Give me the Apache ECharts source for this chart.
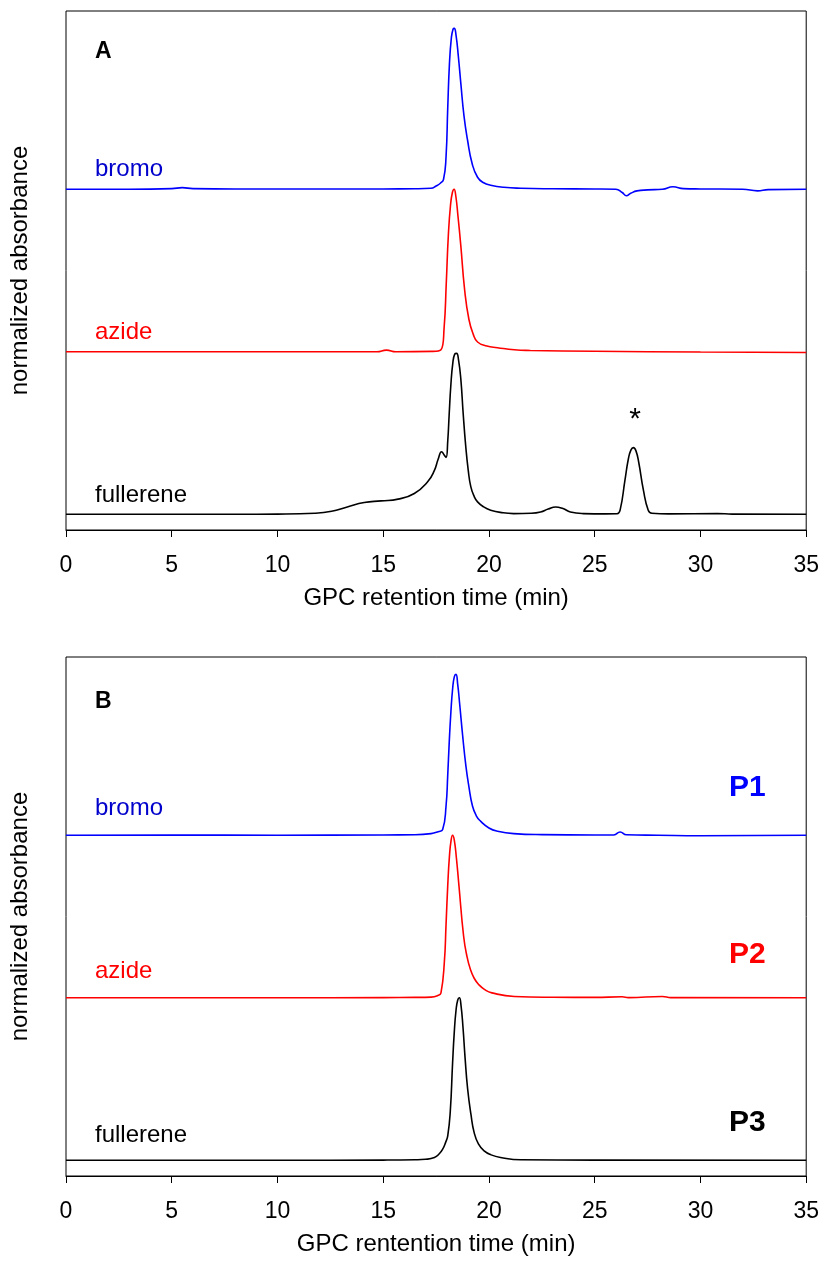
<!DOCTYPE html>
<html>
<head>
<meta charset="utf-8">
<script src="https://cdn.jsdelivr.net/npm/echarts@6/dist/echarts.min.js"></script>
<style>
  html, body { margin: 0; padding: 0; background: #fff; }
  #container { width: 822px; height: 1262px; }
</style>
</head>
<body>
<div id="container"></div>
<script>
  // x ticks (retention time, min)
  var xTicks = [0, 5, 10, 15, 20, 25, 30, 35];

  // panel A traces: [time, normalized absorbance]
  var bromoA = [[0,0],[3,0],[5,0.004],[5.5,0.01],[6,0.004],[8,0.002],[12,0.002],[15,0.002],[16.5,0.003],[17.26,0.006],[17.5,0.02],[17.7,0.037],[17.85,0.06],[17.97,0.2],[18.05,0.5],[18.13,0.77],[18.22,0.93],[18.3,0.985],[18.36,0.99],[18.44,0.95],[18.55,0.82],[18.67,0.65],[18.82,0.45],[18.99,0.30],[19.2,0.16],[19.46,0.074],[19.75,0.04],[20.08,0.025],[20.7,0.012],[21.5,0.006],[23,0.003],[25,0.002],[26.0,0.0],[26.3,-0.02],[26.5,-0.04],[26.7,-0.025],[27.0,-0.01],[27.5,-0.004],[28.2,0.0],[28.7,0.015],[29.2,0.004],[30,0.002],[32,0.0],[32.7,-0.01],[33.2,-0.002],[35,0]];
  var azideA = [[0,0],[10,0],[14.7,0],[15.15,0.01],[15.6,0],[17.3,0.002],[17.73,0.012],[17.88,0.15],[17.98,0.42],[18.08,0.72],[18.18,0.9],[18.27,0.98],[18.35,1.0],[18.43,0.96],[18.53,0.84],[18.67,0.65],[18.85,0.38],[19.05,0.2],[19.25,0.11],[19.46,0.06],[19.9,0.035],[20.4,0.025],[21.2,0.012],[21.96,0.008],[25,0.003],[30,-0.002],[35,-0.005]];
  var fullereneA = [[0,0],[8,0],[10,0.001],[11.77,0.006],[12.56,0.018],[13.3,0.045],[14.1,0.072],[14.9,0.082],[15.7,0.093],[16.47,0.128],[17.1,0.2],[17.42,0.27],[17.6,0.34],[17.76,0.385],[17.88,0.365],[17.97,0.35],[18.05,0.45],[18.12,0.62],[18.2,0.8],[18.29,0.93],[18.38,0.985],[18.47,0.99],[18.56,0.95],[18.67,0.83],[18.78,0.62],[18.9,0.42],[19.02,0.27],[19.14,0.17],[19.3,0.11],[19.46,0.076],[19.75,0.045],[20.08,0.025],[20.6,0.01],[21.17,0.004],[22.0,0.006],[22.44,0.014],[22.8,0.032],[23.15,0.045],[23.5,0.035],[23.85,0.014],[24.46,0.004],[25.5,0.002],[26.06,0.003],[26.2,0.025],[26.43,0.21],[26.59,0.34],[26.71,0.395],[26.83,0.41],[26.95,0.39],[27.08,0.32],[27.3,0.15],[27.53,0.025],[27.7,0.006],[28.5,0.002],[30.8,0.004],[31.5,0.001],[35,0]];

  // panel B traces
  var bromoB = [[0,0],[5,0.001],[10,0],[15,0.002],[16.5,0.003],[17.26,0.01],[17.6,0.022],[17.81,0.035],[17.97,0.18],[18.05,0.37],[18.12,0.57],[18.2,0.76],[18.28,0.9],[18.36,0.975],[18.44,0.99],[18.52,0.93],[18.62,0.8],[18.75,0.62],[18.91,0.425],[19.05,0.3],[19.22,0.18],[19.4,0.12],[19.6,0.087],[20.0,0.045],[20.4,0.025],[21.17,0.01],[22.5,0.004],[25,0.002],[25.9,0.002],[26.2,0.02],[26.5,0.003],[28,0],[30,-0.003],[35,0]];
  var azideB = [[0,0],[10,0],[15,0.001],[16.5,0.002],[17.26,0.004],[17.6,0.015],[17.73,0.03],[17.89,0.22],[17.97,0.45],[18.05,0.69],[18.13,0.87],[18.21,0.97],[18.28,1.0],[18.36,0.97],[18.46,0.86],[18.58,0.69],[18.8,0.38],[18.95,0.26],[19.12,0.175],[19.3,0.12],[19.51,0.082],[19.8,0.05],[20.14,0.03],[21.2,0.008],[23,0.003],[25,0.002],[26.3,0.006],[26.6,0.001],[28.2,0.008],[28.6,0.001],[35,0]];
  var fullereneB = [[0,0],[10,0],[15,0.001],[16.5,0.003],[17.0,0.006],[17.42,0.017],[17.65,0.04],[17.81,0.068],[17.95,0.11],[18.05,0.15],[18.17,0.3],[18.28,0.6],[18.36,0.79],[18.44,0.92],[18.52,0.985],[18.6,1.0],[18.68,0.95],[18.77,0.82],[18.87,0.63],[18.99,0.44],[19.15,0.28],[19.3,0.17],[19.5,0.1],[19.77,0.057],[20.1,0.033],[20.55,0.017],[21.5,0.003],[25,0.001],[35,0]];

  // vertical offsets of the stacked traces
  var offsets = { fullerene: 0, azide: 1, bromo: 2 };

  var FONT = 'Liberation Sans, Arial, Helvetica, sans-serif';

  function shift(arr, off) {
    return arr.map(function (p) { return [p[0], p[1] + off]; });
  }

  function trace(name, data, off, color, idx) {
    return {
      name: name,
      type: 'line',
      xAxisIndex: idx,
      yAxisIndex: idx,
      data: shift(data, off),
      symbol: 'none',
      smooth: 0.5,
      lineStyle: { color: color, width: 1.6 },
      silent: true,
      animation: false
    };
  }

  function xAxisFor(idx, title) {
    return {
      gridIndex: idx,
      type: 'value',
      min: 0,
      max: 35,
      interval: 5,
      name: title,
      nameLocation: 'middle',
      nameGap: 56,
      nameTextStyle: { color: '#000', fontSize: 24, fontFamily: FONT },
      axisLine: { show: true, onZero: false, lineStyle: { color: '#000', width: 1 } },
      axisTick: { show: true, inside: false, length: 7, lineStyle: { color: '#000', width: 1 } },
      axisLabel: { color: '#000', fontSize: 23, fontFamily: FONT, margin: 24 },
      splitLine: { show: false }
    };
  }

  function yAxisFor(idx) {
    return {
      gridIndex: idx,
      type: 'value',
      min: -0.097,
      max: 3.097,
      name: 'normalized absorbance',
      nameLocation: 'middle',
      nameGap: 34,
      nameTextStyle: { color: '#000', fontSize: 24, fontFamily: FONT },
      axisLine: { show: false },
      axisTick: { show: false },
      axisLabel: { show: false },
      splitLine: { show: false }
    };
  }

  function label(text, x, y, size, color, bold, align) {
    return {
      type: 'text',
      silent: true,
      style: {
        text: text,
        x: x,
        y: y,
        fill: color,
        fontSize: size,
        fontWeight: bold ? 'bold' : 'normal',
        fontFamily: FONT,
        align: align || 'left',
        verticalAlign: 'middle'
      }
    };
  }

  var myChart = echarts.init(document.getElementById('container'), null, { renderer: 'canvas' });
  var option = {
    backgroundColor: '#fff',
    animation: false,
    grid: [
      { left: 64, right: 15, top: 11, height: 519, show: true, borderColor: '#000', borderWidth: 1, backgroundColor: 'transparent' },
      { left: 64, right: 15, top: 657, height: 519, show: true, borderColor: '#000', borderWidth: 1, backgroundColor: 'transparent' }
    ],
    xAxis: [xAxisFor(0, 'GPC retention time (min)'), xAxisFor(1, 'GPC rentention time (min)')],
    yAxis: [yAxisFor(0), yAxisFor(1)],
    series: [
      trace('bromo', bromoA, offsets.bromo, '#0000ff', 0),
      trace('azide', azideA, offsets.azide, '#ff0000', 0),
      trace('fullerene', fullereneA, offsets.fullerene, '#000000', 0),
      trace('bromo', bromoB, offsets.bromo, '#0000ff', 1),
      trace('azide', azideB, offsets.azide, '#ff0000', 1),
      trace('fullerene', fullereneB, offsets.fullerene, '#000000', 1)
    ],
    graphic: [
      label('A', 95, 52, 23, '#000', true),
      label('bromo', 95, 169, 24, '#0000cc', false),
      label('azide', 95, 332, 24, '#ff0000', false),
      label('fullerene', 95, 495, 24, '#000', false),
      label('*', 635, 420, 30, '#000', false, 'center'),
      label('B', 95, 702, 23, '#000', true),
      label('bromo', 95, 808, 24, '#0000cc', false),
      label('azide', 95, 971, 24, '#ff0000', false),
      label('fullerene', 95, 1135, 24, '#000', false),
      label('P1', 729, 788, 30, '#0000ff', true),
      label('P2', 729, 955, 30, '#ff0000', true),
      label('P3', 729, 1123, 30, '#000', true)
    ]
  };
  myChart.setOption(option);
</script>
</body>
</html>
